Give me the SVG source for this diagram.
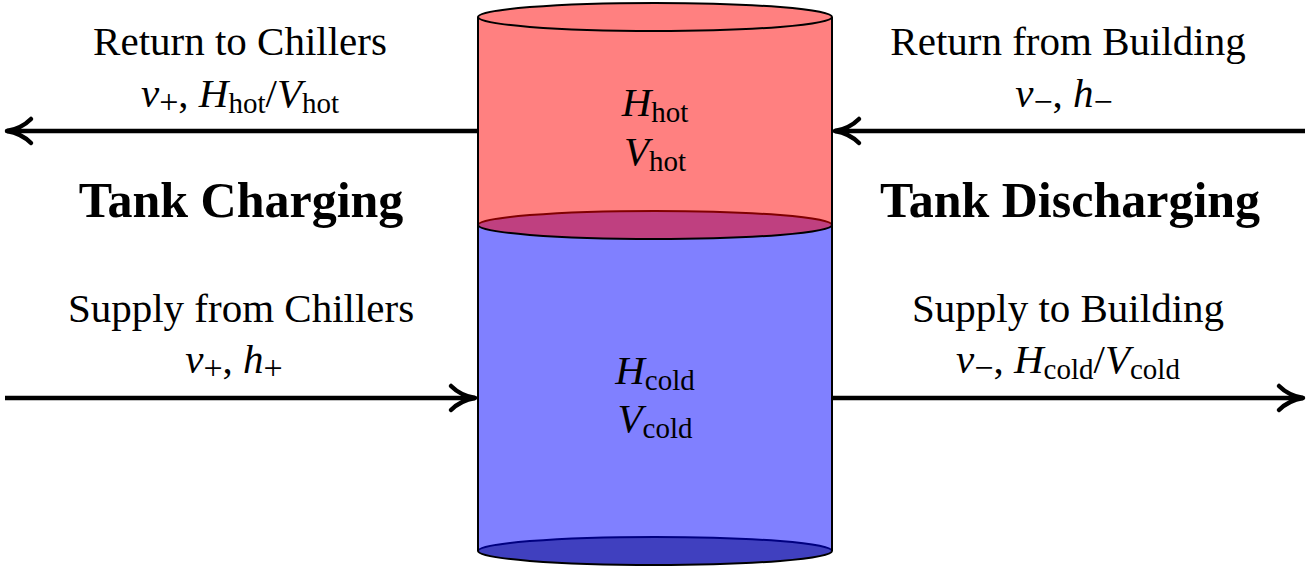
<svg xmlns="http://www.w3.org/2000/svg" width="1310" height="569" viewBox="0 0 1310 569">
<style>
text{font-family:"Liberation Serif","Times New Roman",serif;fill:#000;text-anchor:middle}
.lbl{font-size:41px}
.big{font-size:50px;font-weight:bold}
.it{font-style:italic}
.sub{font-size:29px}
.pm{font-size:34px}
.edge{stroke:#000;stroke-width:2;fill:none}
.flow{stroke:#000;stroke-width:4.5;fill:none}
</style>
<defs>
<marker id="arr" viewBox="-30 -16 34 32" refX="0" refY="0" markerWidth="34" markerHeight="32" markerUnits="userSpaceOnUse" orient="auto" overflow="visible">
<path d="M -24,-12 C -16,-4 -6,-1 0,0 C -6,1 -16,4 -24,12" fill="none" stroke="#000" stroke-width="4.5" stroke-linecap="round" stroke-linejoin="round"/>
</marker>
</defs>
<g id="tank">
<path d="M478,17 L478,225 L832,225 L832,17 Z" fill="#FF8080"/>
<rect x="478" y="225" width="354" height="326" fill="#8080FF"/>
<ellipse cx="655" cy="551" rx="177" ry="14" fill="#4040BF"/>
<path d="M478,551 A177,14 0 0 1 832,551" stroke="#000080" stroke-width="2" fill="none"/>
<path d="M478,551 A177,14 0 0 0 832,551" class="edge"/>
<ellipse cx="655" cy="225" rx="177" ry="14" fill="#BF4080"/>
<path d="M478,225 A177,14 0 0 1 832,225" stroke="#800000" stroke-width="2" fill="none"/>
<path d="M478,225 A177,14 0 0 0 832,225" class="edge"/>
<ellipse cx="655" cy="17" rx="177" ry="14" class="edge" style="fill:#FF8080"/>
<line x1="478" y1="17" x2="478" y2="551" class="edge"/>
<line x1="832" y1="17" x2="832" y2="551" class="edge"/>
<text class="lbl" x="655" y="116"><tspan class="it">H</tspan><tspan class="sub" dy="6">hot</tspan></text>
<text class="lbl" x="655" y="165"><tspan class="it">V</tspan><tspan class="sub" dy="6">hot</tspan></text>
<text class="lbl" x="655" y="384"><tspan class="it">H</tspan><tspan class="sub" dy="6">cold</tspan></text>
<text class="lbl" x="655" y="432"><tspan class="it">V</tspan><tspan class="sub" dy="6">cold</tspan></text>
</g>
<g id="connectors">
<line x1="478" y1="131" x2="7" y2="131" class="flow" marker-end="url(#arr)"/>
<line x1="1305" y1="131" x2="835" y2="131" class="flow" marker-end="url(#arr)"/>
<line x1="5" y1="398" x2="475" y2="398" class="flow" marker-end="url(#arr)"/>
<line x1="832" y1="398" x2="1303" y2="398" class="flow" marker-end="url(#arr)"/>
</g>
<g id="charging">
<text class="lbl" x="240" y="55">Return to Chillers</text>
<text class="lbl" x="240" y="107"><tspan class="it">v</tspan><tspan class="pm" dy="6">+</tspan><tspan dy="-6">, </tspan><tspan class="it">H</tspan><tspan class="sub" dy="6">hot</tspan><tspan dy="-6">/</tspan><tspan class="it">V</tspan><tspan class="sub" dy="6">hot</tspan></text>
<text class="big" x="241" y="217">Tank Charging</text>
<text class="lbl" x="241" y="322">Supply from Chillers</text>
<text class="lbl" x="234" y="373"><tspan class="it">v</tspan><tspan class="pm" dy="6">+</tspan><tspan dy="-6">, </tspan><tspan class="it">h</tspan><tspan class="pm" dy="6">+</tspan></text>
</g>
<g id="discharging">
<text class="lbl" x="1068" y="55">Return from Building</text>
<text class="lbl" x="1064" y="107"><tspan class="it">v</tspan><tspan class="pm" dy="6">−</tspan><tspan dy="-6">, </tspan><tspan class="it">h</tspan><tspan class="pm" dy="6">−</tspan></text>
<text class="big" x="1070" y="217">Tank Discharging</text>
<text class="lbl" x="1068" y="322">Supply to Building</text>
<text class="lbl" x="1068" y="373"><tspan class="it">v</tspan><tspan class="pm" dy="6">−</tspan><tspan dy="-6">, </tspan><tspan class="it">H</tspan><tspan class="sub" dy="6">cold</tspan><tspan dy="-6">/</tspan><tspan class="it">V</tspan><tspan class="sub" dy="6">cold</tspan></text>
</g>
</svg>
